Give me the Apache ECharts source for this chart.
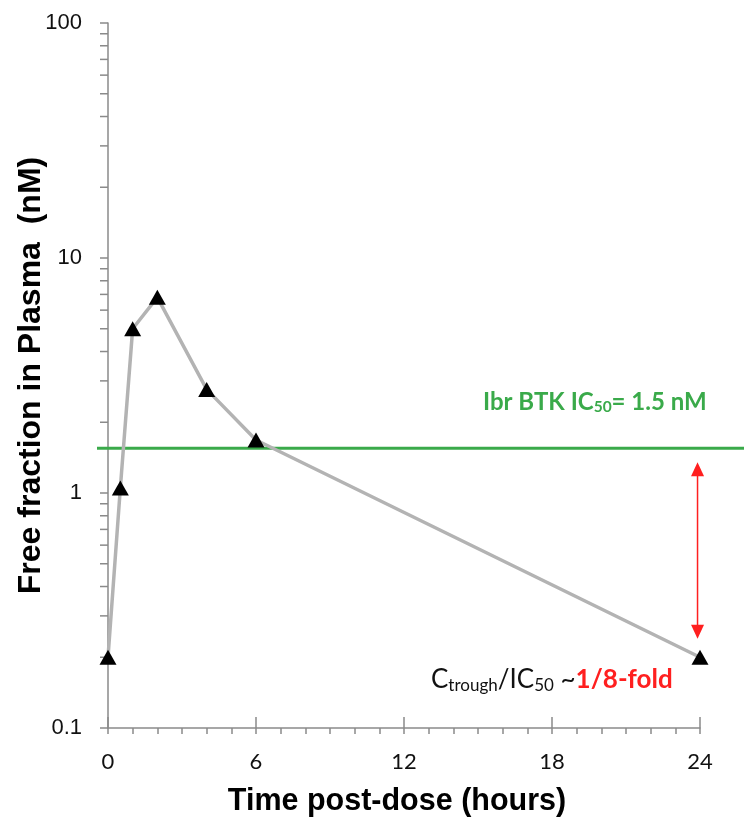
<!DOCTYPE html>
<html><head><meta charset="utf-8">
<script src="https://cdn.jsdelivr.net/npm/echarts@6/dist/echarts.min.js"></script>
<style>html,body{margin:0;padding:0;background:#fff}#c{width:744px;height:824px}</style>
</head><body><div id="c"></div>
<script>
// ---- data ----
const timeHours = [0, 0.5, 1, 2, 4, 6, 24];
const freeConc = [0.2, 1.05, 5.0, 6.8, 2.76, 1.68, 0.2];
const xTickLabels = ['0', '6', '12', '18', '24'];
const yTickLabels = ['0.1', '1', '10', '100'];
const yMinorTicks = [0.2, 0.3, 0.4, 0.5, 0.6, 0.7, 0.8, 0.9, 2, 3, 4, 5, 6, 7, 8, 9, 20, 30, 40, 50, 60, 70, 80, 90];
const ic50Line = 1.55;
const arrowX = 23.9;
const arrowTop = 1.35;
const arrowBottom = 0.24;

const AX = '#8a8a8a';
const GREEN = '#3aaa4a';
const RED = '#ff1f1f';

const chart = echarts.init(document.getElementById('c'), null, {renderer: 'canvas'});
const option = {
  animation: false,
  backgroundColor: '#fff',
  grid: {left: 108, right: 44, top: 23, bottom: 96, containLabel: false, outerBoundsMode: 'none'},
  xAxis: [{
    type: 'value', min: 0, max: 24, interval: 6,
    axisLine: {lineStyle: {color: AX, width: 1.5}},
    axisTick: {length: 6, lineStyle: {color: AX, width: 1.5}},
    minorTick: {show: true, splitNumber: 6, length: 6, lineStyle: {color: AX, width: 1.5}},
    splitLine: {show: false}, minorSplitLine: {show: false},
    axisLabel: {formatter: (v, i) => xTickLabels[i], fontFamily: 'Lato', fontSize: 22, color: '#111', margin: 23},
    name: 'Time post-dose (hours)', nameLocation: 'middle', nameGap: 58, nameMoveOverlap: false,
    nameTextStyle: {fontFamily: 'Liberation Sans', fontWeight: 'bold', fontSize: 30.5, color: '#000', padding: [0, 14, 0, 0]}
  }, {
    type: 'value', min: 0, max: 24, interval: 6, position: 'bottom',
    axisLine: {show: false}, axisLabel: {show: false}, splitLine: {show: false},
    axisTick: {inside: true, length: 11, lineStyle: {color: AX, width: 1.5}}
  }],
  yAxis: {
    type: 'log', logBase: 10, min: 0.1, max: 100,
    axisLine: {show: true, lineStyle: {color: AX, width: 1.5}},
    axisTick: {show: true, length: 8, lineStyle: {color: AX, width: 1.5}},
    splitLine: {show: false},
    axisLabel: {formatter: (v, i) => yTickLabels[i], fontFamily: 'Liberation Sans', fontSize: 22, color: '#111', margin: 26},
    name: 'Free fraction in Plasma  (nM)', nameLocation: 'middle', nameRotate: 90, nameGap: 61, nameMoveOverlap: false,
    nameTextStyle: {fontFamily: 'Liberation Sans', fontWeight: 'bold', fontSize: 32, color: '#000'}
  },
  series: [{
    type: 'custom', silent: true, z: 1, clip: false,
    data: yMinorTicks.map(v => [0, v]),
    renderItem: (params, api) => {
      const p = api.coord([0, api.value(1)]);
      return {type: 'line', shape: {x1: p[0] - 8, y1: p[1], x2: p[0], y2: p[1]}, style: {stroke: AX, lineWidth: 1.5}};
    }
  }, {
    type: 'custom', silent: true, z: 2, clip: false,
    data: [[0, ic50Line]],
    renderItem: (params, api) => {
      const p = api.coord([0, api.value(1)]);
      return {type: 'line', shape: {x1: p[0] - 11, y1: p[1], x2: api.getWidth(), y2: p[1]}, style: {stroke: GREEN, lineWidth: 3}};
    }
  }, {
    type: 'custom', silent: true, z: 3, clip: false,
    data: [[arrowX, arrowTop, arrowBottom]],
    renderItem: (params, api) => {
      const t = api.coord([api.value(0), api.value(1)]);
      const b = api.coord([api.value(0), api.value(2)]);
      const x = t[0], hw = 6.5, hh = 14;
      return {type: 'group', children: [
        {type: 'line', shape: {x1: x, y1: t[1] + hh - 2, x2: x, y2: b[1] - hh + 2}, style: {stroke: RED, lineWidth: 1.5}},
        {type: 'polygon', shape: {points: [[x, t[1]], [x - hw, t[1] + hh], [x + hw, t[1] + hh]]}, style: {fill: RED}},
        {type: 'polygon', shape: {points: [[x, b[1]], [x - hw, b[1] - hh], [x + hw, b[1] - hh]]}, style: {fill: RED}}
      ]};
    }
  }, {
    type: 'line', z: 5,
    data: timeHours.map((t, i) => [t, freeConc[i]]),
    lineStyle: {color: '#b3b3b3', width: 3.5},
    symbol: 'triangle', symbolSize: [17, 15],
    itemStyle: {color: '#000'},
    emphasis: {disabled: true}
  }],
  graphic: [{
    type: 'text', left: 483, top: 389, z: 10,
    style: {
      text: '{m|Ibr BTK IC}{s|50}{m|= 1.5 nM}',
      rich: {
        m: {fontFamily: 'Lato', fontWeight: 'bold', fontSize: 24, fill: GREEN, lineHeight: 30, verticalAlign: 'middle'},
        s: {fontFamily: 'Lato', fontWeight: 'bold', fontSize: 15.5, fill: GREEN, lineHeight: 18, padding: [10, 0, 0, 0], verticalAlign: 'middle'}
      }
    }
  }, {
    type: 'text', left: 431, top: 665, z: 10,
    style: {
      text: '{m|C}{s|trough}{m|/IC}{s|50}{m| ~}{r|1/8-fold}',
      rich: {
        m: {fontFamily: 'Lato', fontSize: 26, fill: '#111', lineHeight: 34, verticalAlign: 'middle'},
        s: {fontFamily: 'Lato', fontSize: 17, fill: '#111', lineHeight: 20, padding: [12, 0, 0, 0], verticalAlign: 'middle'},
        r: {fontFamily: 'Lato', fontWeight: 'bold', fontSize: 26, fill: RED, lineHeight: 34, verticalAlign: 'middle'}
      }
    }
  }]
};
chart.setOption(option);
</script>
</body></html>
